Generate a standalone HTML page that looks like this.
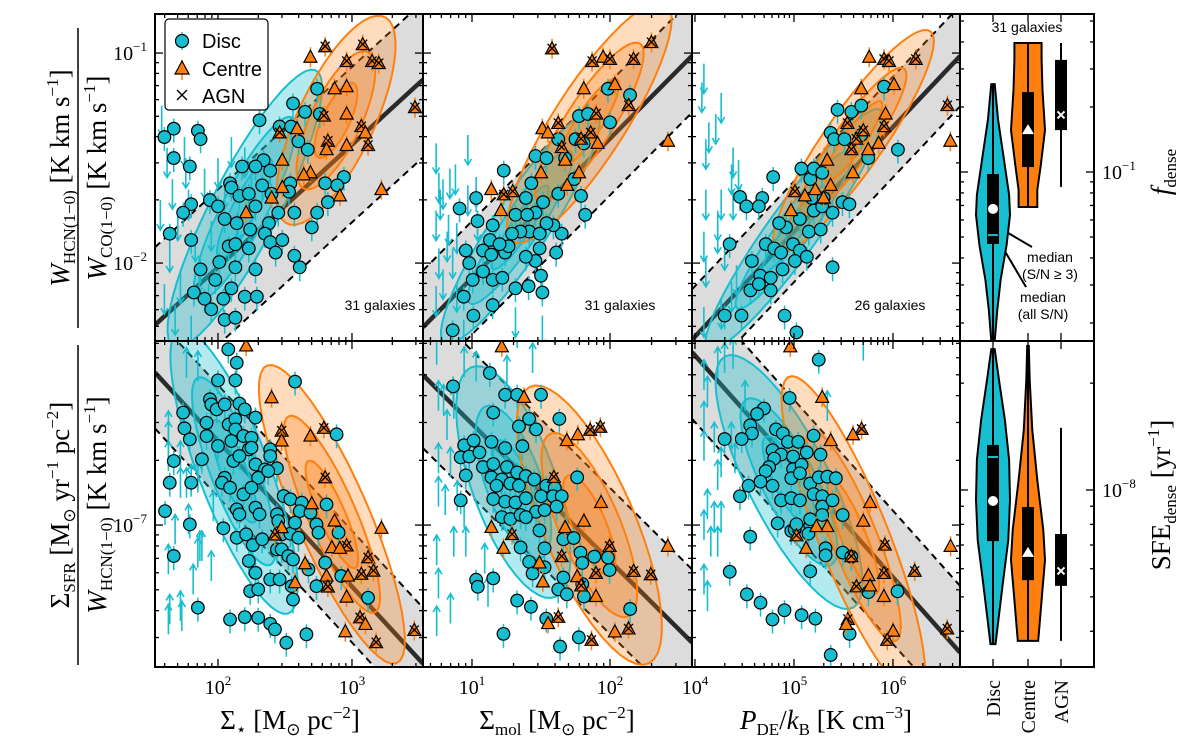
<!DOCTYPE html>
<html><head><meta charset="utf-8"><style>
html,body{margin:0;padding:0;background:#fff;}
svg{display:block;font-family:"Liberation Serif",serif;}
.sans{font-family:"Liberation Sans",sans-serif;}
</style></head><body>
<svg id="fig" width="1200" height="746" viewBox="0 0 1200 746" xmlns="http://www.w3.org/2000/svg">
<defs>
<clipPath id="c00"><rect x="155" y="14" width="268" height="327"/></clipPath>
<clipPath id="c01"><rect x="423" y="14" width="269" height="327"/></clipPath>
<clipPath id="c02"><rect x="692" y="14" width="268" height="327"/></clipPath>
<clipPath id="c10"><rect x="155" y="341" width="268" height="326"/></clipPath>
<clipPath id="c11"><rect x="423" y="341" width="269" height="326"/></clipPath>
<clipPath id="c12"><rect x="692" y="341" width="268" height="326"/></clipPath>
</defs>
<g id="plots"></g>

<!-- legend -->
<g class="sans">
<rect x="165" y="19" width="103" height="91" rx="4" fill="#fff" stroke="#000" stroke-width="1.2"/>
<g>
<line x1="182" y1="32" x2="182" y2="50" stroke="#17becf" stroke-width="1.5"/>
<circle cx="182" cy="41" r="6.5" fill="#17becf" stroke="#000" stroke-width="1.2"/>
<text x="202" y="48" font-size="20">Disc</text></g>
<g>
<line x1="182" y1="60" x2="182" y2="80" stroke="#ff7f0e" stroke-width="1.5"/>
<polygon points="182,61 189,74 175,74" fill="#ff7f0e" stroke="#000" stroke-width="1.2"/>
<text x="202" y="76" font-size="20">Centre</text></g>
<g>
<path d="M177,90 L187,100 M187,90 L177,100" stroke="#000" stroke-width="1.4"/>
<text x="202" y="103" font-size="20">AGN</text></g>
</g>

<text class="sans" x="380" y="310" font-size="14" text-anchor="middle">31 galaxies</text>
<text class="sans" x="620" y="310" font-size="14" text-anchor="middle">31 galaxies</text>
<text class="sans" x="890" y="310" font-size="14" text-anchor="middle">26 galaxies</text>
<text class="sans" x="1027" y="32" font-size="14" text-anchor="middle">31 galaxies</text>

<!-- y axis titles -->
<g transform="translate(78,178) rotate(-90)" font-size="27">
<text x="0" y="-9" text-anchor="middle"><tspan font-style="italic">W</tspan><tspan font-size="17" dy="6">HCN(1−0)</tspan><tspan dy="-6"> [K km s</tspan><tspan font-size="17" dy="-11">−1</tspan><tspan dy="11">]</tspan></text>
<line x1="-150" y1="0" x2="150" y2="0" stroke="#000" stroke-width="1.5"/>
<text x="0" y="28" text-anchor="middle"><tspan font-style="italic">W</tspan><tspan font-size="17" dy="6">CO(1−0)</tspan><tspan dy="-6"> [K km s</tspan><tspan font-size="17" dy="-11">−1</tspan><tspan dy="11">]</tspan></text>
</g>
<g transform="translate(78,505) rotate(-90)" font-size="27">
<text x="0" y="-9" text-anchor="middle">Σ<tspan font-size="17" dy="6">SFR</tspan><tspan dy="-6"> [M</tspan><tspan font-size="17" dy="6">⊙</tspan><tspan dy="-6"> yr</tspan><tspan font-size="17" dy="-11">−1</tspan><tspan dy="11"> pc</tspan><tspan font-size="17" dy="-11">−2</tspan><tspan dy="11">]</tspan></text>
<line x1="-160" y1="0" x2="160" y2="0" stroke="#000" stroke-width="1.5"/>
<text x="0" y="28" text-anchor="middle"><tspan font-style="italic">W</tspan><tspan font-size="17" dy="6">HCN(1−0)</tspan><tspan dy="-6"> [K km s</tspan><tspan font-size="17" dy="-11">−1</tspan><tspan dy="11">]</tspan></text>
</g>
<text transform="translate(1170,172) rotate(-90)" font-size="27" text-anchor="middle"><tspan font-style="italic">f</tspan><tspan font-size="17" dy="6">dense</tspan></text>
<text transform="translate(1170,495) rotate(-90)" font-size="27" text-anchor="middle">SFE<tspan font-size="17" dy="6">dense</tspan><tspan dy="-6"> [yr</tspan><tspan font-size="17" dy="-11">−1</tspan><tspan dy="11">]</tspan></text>

<!-- x axis titles -->
<text x="290" y="729" font-size="27" text-anchor="middle">Σ<tspan font-size="17" dy="6">⋆</tspan><tspan dy="-6"> [M</tspan><tspan font-size="17" dy="6">⊙</tspan><tspan dy="-6"> pc</tspan><tspan font-size="17" dy="-11">−2</tspan><tspan dy="11">]</tspan></text>
<text x="557" y="729" font-size="27" text-anchor="middle">Σ<tspan font-size="17" dy="6">mol</tspan><tspan dy="-6"> [M</tspan><tspan font-size="17" dy="6">⊙</tspan><tspan dy="-6"> pc</tspan><tspan font-size="17" dy="-11">−2</tspan><tspan dy="11">]</tspan></text>
<text x="826" y="729" font-size="27" text-anchor="middle"><tspan font-style="italic">P</tspan><tspan font-size="17" dy="6">DE</tspan><tspan dy="-6">/</tspan><tspan font-style="italic">k</tspan><tspan font-size="17" dy="6">B</tspan><tspan dy="-6"> [K cm</tspan><tspan font-size="17" dy="-11">−3</tspan><tspan dy="11">]</tspan></text>

<!-- violin annotations -->
<g class="sans" font-size="14" text-anchor="middle">
<text x="1050" y="262">median</text><text x="1050" y="279">(S/N ≥ 3)</text>
<text x="1043" y="302">median</text><text x="1043" y="319">(all S/N)</text>
<line x1="1032" y1="247" x2="1003" y2="230" stroke="#000" stroke-width="2"/>
<line x1="1026" y1="287" x2="1003" y2="248" stroke="#000" stroke-width="2"/>
</g>
<g id="violins"></g>
</svg>
<script>
// ---- DATA (log10 values) ----
// column 1: log Sigma_star ; top: log W_HCN/W_CO ; bottom: log Sigma_SFR/W_HCN
const tlDisc=[[2.74,-1.17],[2.56,-1.24],[2.31,-1.32],[1.67,-1.36],[1.60,-1.40],[1.85,-1.37],[1.87,-1.41],[1.67,-1.50],[1.79,-1.54],[2.18,-1.54],[2.34,-1.51],[2.28,-1.54],[2.39,-1.56],[2.46,-1.35],[2.545,-1.35],[2.60,-1.42],[2.67,-1.46],[2.65,-1.28],[2.76,-1.29],[2.94,-1.59],[2.80,-1.62],[2.89,-1.63],[2.09,-1.62],[2.10,-1.64],[1.94,-1.70],[2.00,-1.73],[1.80,-1.72],[1.74,-1.76],[2.16,-1.68],[2.23,-1.67],[2.33,-1.63],[2.40,-1.67],[2.54,-1.62],[2.53,-1.66],[2.82,-1.71],[2.74,-1.76],[2.70,-1.83],[2.57,-1.76],[2.45,-1.76],[2.05,-1.79],[2.14,-1.81],[2.28,-1.73],[2.24,-1.84],[2.38,-1.81],[2.35,-1.86],[1.64,-1.86],[1.80,-1.89],[2.08,-1.92],[2.13,-1.91],[2.23,-1.93],[2.39,-1.90],[2.48,-1.89],[2.43,-1.95],[2.57,-1.965],[2.61,-2.02],[2.01,-1.995],[2.13,-2.02],[2.28,-2.03],[1.87,-2.03],[1.98,-2.08],[2.10,-2.12],[2.20,-2.16],[2.29,-2.16],[1.82,-2.14],[1.90,-2.17],[1.95,-2.22],[2.04,-2.17],[2.05,-2.27],[2.13,-2.26]];
const tlCentre=[[2.69,-1.02,0],[2.80,-0.97,1],[3.08,-0.96,1],[2.96,-1.04,1],[3.15,-1.04,1],[3.20,-1.05,1],[2.96,-1.16,0],[2.87,-1.17,0],[2.96,-1.29,0],[2.79,-1.30,1],[2.59,-1.36,0],[2.46,-1.38,1],[3.07,-1.35,1],[3.10,-1.38,0],[2.82,-1.42,1],[2.81,-1.46,0],[2.96,-1.44,0],[2.48,-1.51,0],[2.69,-1.57,0],[2.64,-1.58,0],[2.48,-1.64,0],[2.40,-1.69,0],[2.21,-1.76,0],[2.91,-1.68,0],[3.22,-1.65,0],[3.47,-1.26,1],[3.12,-1.44,1]];
const tlLimits=[[1.58,-1.25],[1.62,-1.45],[1.66,-1.60],[1.70,-1.75],[1.64,-1.90],[1.75,-1.40],[1.78,-1.65],[1.83,-1.85],[1.86,-2.00],[1.72,-2.05],[1.90,-1.55],[1.95,-1.80],[2.00,-1.50],[2.05,-1.60],[2.10,-1.40],[2.20,-1.45],[1.60,-2.10],[1.68,-2.20],[1.80,-2.25],[2.15,-1.75],[2.25,-1.55],[1.57,-1.70],[1.93,-2.10],[1.76,-1.50]];
const tlFit=[0.584,-3.188,0.37];
const tlDiscContour=[2.2,-1.74,0.65,0.76,0.85,0.22];
const tlCentreContour=[2.88,-1.32,0.65,0.76,0.62,0.25];

const blDisc=[[2.077,-6.183],[2.14,-6.245],[2.0,-6.327],[2.13,-6.327],[2.575,-6.333],[1.94,-6.415],[1.95,-6.439],[1.99,-6.462],[2.05,-6.439],[2.16,-6.435],[2.20,-6.462],[1.74,-6.477],[1.75,-6.55],[1.79,-6.601],[1.915,-6.524],[1.915,-6.586],[2.08,-6.532],[2.13,-6.508],[2.13,-6.555],[2.28,-6.50],[2.19,-6.586],[2.25,-6.594],[2.0,-6.632],[2.10,-6.609],[2.23,-6.648],[2.25,-6.64],[1.88,-6.694],[2.115,-6.702],[2.16,-6.679],[2.39,-6.648],[2.39,-6.679],[2.28,-6.718],[2.44,-6.736],[2.35,-6.741],[2.30,-6.78],[1.67,-6.702],[1.80,-6.803],[1.64,-6.803],[2.05,-6.78],[2.03,-6.803],[2.09,-6.826],[2.19,-6.857],[2.25,-6.826],[2.28,-6.919],[2.14,-6.927],[2.16,-6.95],[2.31,-6.95],[2.375,-6.749],[1.605,-6.935],[1.79,-6.997],[2.04,-7.015],[2.14,-7.059],[2.21,-7.043],[2.26,-7.093],[2.33,-7.066],[2.44,-6.95],[2.45,-6.981],[2.49,-6.865],[2.54,-6.88],[2.625,-6.896],[2.61,-6.935],[2.69,-6.942],[2.475,-7.043],[2.54,-7.04],[2.60,-7.059],[2.575,-6.989],[2.44,-7.113],[2.475,-7.113],[2.525,-7.144],[2.56,-7.16],[2.735,-6.997],[2.75,-7.035],[2.90,-7.035],[2.81,-6.904],[2.675,-7.206],[2.80,-7.175],[2.735,-7.284],[2.92,-7.237],[3.12,-7.338],[2.23,-7.167],[2.28,-7.222],[2.39,-7.253],[2.46,-7.253],[2.24,-7.307],[2.30,-7.299],[2.56,-7.346],[2.55,-7.284],[1.67,-7.144],[1.85,-7.384],[2.09,-7.439],[2.20,-7.428],[2.30,-7.431],[2.39,-7.459],[2.425,-7.485],[2.66,-7.508],[2.51,-7.547],[2.885,-6.578]];
const blCentre=[[2.21,-6.167,0],[2.40,-6.408,0],[2.475,-6.563,1],[2.475,-6.609,0],[2.69,-6.586,0],[2.79,-6.55,1],[2.80,-6.78,1],[2.70,-6.901,0],[2.87,-6.981,0],[2.475,-7.012,0],[2.425,-7.046,1],[2.96,-7.097,1],[2.85,-7.105,0],[2.91,-7.108,0],[3.12,-7.152,1],[3.16,-7.214,1],[3.07,-7.229,1],[2.97,-7.237,0],[2.65,-7.18,0],[2.81,-7.237,0],[2.82,-7.288,1],[2.575,-7.268,0],[2.96,-7.335,0],[3.06,-7.431,1],[3.10,-7.462,0],[2.95,-7.496,0],[3.18,-7.547,1],[3.465,-7.49,1],[3.22,-7.015,0]];
const blLimits=[[1.63,-7.508],[1.64,-7.462],[1.73,-7.493],[1.72,-7.446],[1.63,-7.229],[1.68,-7.09],[1.72,-6.873],[1.765,-6.873],[1.72,-6.749],[1.63,-6.749],[1.63,-6.609],[1.63,-6.656],[1.80,-6.857],[1.85,-6.849],[1.865,-7.167],[1.85,-7.198],[1.88,-7.167],[1.95,-7.26],[1.815,-7.322],[1.765,-6.315],[1.85,-6.33],[1.965,-6.981],[1.78,-7.043]];
const blFit=[-0.677,-5.255,0.26];
const blDiscContour=[2.12,-6.75,0.553,-0.833,0.78,0.24];
const blCentreContour=[2.85,-6.95,0.6,-0.8,0.85,0.24];

// column 2: log Sigma_mol
const tmDisc=[[1.23,-1.56],[1.03,-1.69],[0.91,-1.74],[1.04,-1.80],[0.955,-1.94],[1.15,-1.82],[1.13,-1.89],[1.08,-1.94],[1.14,-1.96],[1.24,-1.95],[0.98,-2.00],[1.08,-2.04],[1.005,-2.08],[1.15,-2.08],[1.22,-2.07],[0.94,-2.16],[1.01,-2.25],[0.86,-2.32],[1.15,-2.20],[1.315,-2.12],[1.41,-2.11],[1.50,-2.06],[1.51,-2.14],[1.61,-1.95],[1.65,-1.86],[1.59,-1.82],[1.54,-1.81],[1.46,-1.76],[1.39,-1.69],[1.43,-1.62],[1.46,-1.49],[1.54,-1.50],[1.625,-1.41],[1.75,-1.41],[1.81,-1.43],[1.775,-1.30],[1.84,-1.29],[2.0,-1.33],[1.985,-1.17],[2.145,-1.20],[1.675,-1.50],[1.74,-1.60],[1.79,-1.68],[1.82,-1.77],[1.625,-1.67],[1.515,-1.71],[1.415,-1.85],[1.35,-1.85],[1.29,-1.86],[1.315,-1.77],[1.40,-1.77],[1.49,-1.86],[1.46,-1.99],[1.39,-1.97],[1.265,-1.92],[1.20,-1.91],[1.49,-1.93]];
const tmCentre=[[1.58,-0.98,1],[1.87,-1.04,1],[1.95,-1.02,0],[2.0,-1.03,1],[2.17,-1.03,1],[2.30,-0.95,1],[1.81,-1.17,0],[2.035,-1.15,0],[2.135,-1.25,1],[1.90,-1.29,1],[1.625,-1.335,1],[1.51,-1.36,0],[1.55,-1.38,0],[1.86,-1.38,1],[1.79,-1.41,1],[1.91,-1.43,0],[1.65,-1.45,1],[1.675,-1.51,0],[1.775,-1.57,0],[1.69,-1.63,0],[1.50,-1.57,0],[1.14,-1.65,0],[1.23,-1.675,1],[1.295,-1.66,1],[1.21,-1.75,0],[2.42,-1.42,0]];
const tmLimits=[[0.74,-1.43],[0.76,-1.57],[0.77,-1.65],[0.79,-1.60],[0.84,-1.55],[0.88,-1.53],[0.74,-1.75],[0.83,-1.77],[0.82,-1.85],[0.89,-1.81],[0.97,-1.39],[0.97,-1.63],[1.03,-1.59],[0.76,-1.93],[0.86,-1.93],[0.79,-2.03],[0.74,-2.11],[0.89,-2.09],[1.04,-1.75],[1.315,-2.21],[1.51,-2.25],[0.94,-2.27]];
const tmFit=[0.663,-2.733,0.27];
const tmDiscContour=[1.35,-1.83,0.72,0.69,0.78,0.17];
const tmCentreContour=[1.85,-1.33,0.72,0.69,0.8,0.22];

const bmDisc=[[1.129,-6.293],[0.863,-6.355],[1.24,-6.394],[1.327,-6.394],[1.50,-6.394],[1.154,-6.477],[1.633,-6.506],[1.34,-6.541],[1.464,-6.555],[1.414,-6.506],[0.943,-6.629],[1.012,-6.607],[1.141,-6.613],[1.24,-6.642],[1.365,-6.633],[0.918,-6.685],[0.98,-6.681],[1.054,-6.662],[1.079,-6.73],[1.154,-6.716],[1.253,-6.73],[1.327,-6.755],[1.39,-6.772],[1.451,-6.788],[1.141,-6.778],[1.216,-6.788],[0.955,-6.769],[1.178,-6.817],[1.278,-6.807],[1.34,-6.817],[1.538,-6.817],[1.60,-6.827],[1.501,-6.866],[1.588,-6.866],[1.65,-6.866],[1.762,-6.778],[1.154,-6.879],[1.24,-6.891],[1.315,-6.895],[1.39,-6.875],[0.918,-6.885],[1.464,-6.938],[1.526,-6.93],[1.613,-6.914],[1.216,-6.963],[1.278,-6.972],[1.352,-6.953],[1.39,-6.963],[1.489,-7.025],[1.352,-7.104],[1.414,-7.171],[1.439,-7.225],[1.526,-7.108],[1.662,-7.066],[1.737,-7.06],[1.786,-7.128],[1.799,-7.176],[1.886,-7.147],[1.985,-7.151],[1.997,-7.209],[1.526,-7.196],[1.662,-7.244],[1.799,-7.274],[1.625,-7.299],[1.687,-7.322],[1.811,-7.332],[1.03,-7.254],[1.042,-7.287],[1.154,-7.248],[1.327,-7.351],[1.427,-7.38],[1.538,-7.435],[2.146,-7.39],[1.228,-7.506],[1.638,-7.565],[1.774,-7.522]];
const bmCentre=[[1.216,-6.171,0],[1.377,-6.406,0],[1.687,-6.607,0],[1.767,-6.58,0],[1.856,-6.559,1],[1.93,-6.545,1],[1.593,-6.778,1],[1.935,-6.895,0],[1.141,-7.011,0],[1.811,-6.982,0],[1.29,-7.044,1],[1.228,-7.108,0],[1.675,-7.011,0],[1.65,-7.147,1],[1.489,-7.176,0],[1.997,-7.099,1],[1.513,-7.264,0],[1.762,-7.24,0],[1.791,-7.283,1],[1.898,-7.225,1],[1.898,-7.332,0],[2.171,-7.215,1],[2.295,-7.231,1],[2.419,-7.099,0],[1.625,-7.429,1],[1.551,-7.458,0],[2.035,-7.497,0],[2.134,-7.483,1],[1.866,-7.536,1]];
const bmLimits=[[0.744,-6.254],[0.757,-6.468],[0.794,-6.487],[0.868,-6.506],[0.943,-6.312],[1.03,-6.332],[0.819,-6.604],[0.757,-6.759],[0.844,-6.778],[0.757,-6.914],[0.806,-6.953],[0.893,-6.934],[0.943,-7.011],[0.744,-7.186],[0.868,-7.147],[0.955,-7.147],[1.092,-7.225],[0.757,-7.341],[0.844,-7.458],[0.744,-7.516],[1.253,-6.351],[1.439,-6.293],[1.60,-6.157],[1.327,-6.176],[1.116,-7.38]];
const bmFit=[-0.638,-5.891,0.34];
const bmDiscContour=[1.3,-6.8,0.55,-0.83,0.62,0.28];
const bmCentreContour=[1.85,-7.0,0.6,-0.8,0.78,0.3];

// column 3: log P_DE/k_B
const trDisc=[[4.79,-1.59],[4.455,-1.685],[4.52,-1.73],[4.68,-1.69],[4.645,-1.73],[4.35,-1.91],[4.575,-1.99],[4.715,-1.91],[4.80,-1.93],[4.66,-2.06],[4.56,-2.13],[4.765,-2.07],[4.885,-2.03],[4.765,-2.13],[4.645,-2.10],[4.87,-1.95],[4.99,-1.91],[5.06,-1.94],[5.01,-1.99],[5.15,-1.85],[4.92,-1.83],[4.85,-1.81],[5.06,-1.79],[5.20,-1.75],[5.285,-1.73],[5.18,-1.69],[5.165,-1.60],[5.075,-1.55],[5.20,-1.55],[5.285,-1.57],[5.37,-1.38],[5.44,-1.27],[5.58,-1.28],[5.68,-1.25],[5.91,-1.16],[6.05,-1.46],[5.405,-1.41],[5.51,-1.41],[5.68,-1.39],[5.75,-1.50],[5.30,-1.69],[5.39,-1.76],[5.49,-1.71],[5.56,-1.72],[5.39,-2.02],[4.47,-2.25],[4.905,-2.25],[5.025,-2.33],[4.30,-2.25],[5.13,-1.97],[5.27,-1.84]];
const trCentre=[[5.76,-1.02,0],[5.91,-1.03,1],[5.96,-1.04,1],[6.23,-1.03,1],[5.68,-1.17,0],[6.01,-1.15,0],[5.925,-1.29,0],[5.91,-1.35,1],[5.54,-1.335,1],[5.63,-1.41,1],[5.70,-1.37,1],[5.58,-1.46,1],[5.855,-1.43,0],[5.75,-1.46,0],[5.335,-1.51,0],[5.595,-1.57,0],[5.37,-1.63,0],[5.215,-1.65,0],[5.01,-1.66,1],[5.11,-1.68,0],[5.30,-1.69,0],[4.97,-1.75,0],[6.55,-1.25,1],[6.58,-1.42,0]];
const trLimits=[[4.09,-1.05],[4.07,-1.14],[4.14,-1.33],[4.21,-1.29],[4.265,-1.19],[4.11,-1.41],[4.385,-1.45],[4.37,-1.53],[4.44,-1.51],[4.11,-1.65],[4.265,-1.65],[4.385,-1.65],[4.09,-1.85],[4.23,-1.81],[4.30,-1.89],[4.11,-1.97],[4.42,-2.01],[4.37,-2.09],[4.265,-2.17],[4.09,-2.21],[4.23,-1.75]];
const trFit=[0.499,-4.346,0.24];
const trDiscContour=[5.0,-1.84,0.85,0.53,1.05,0.17];
const trCentreContour=[5.6,-1.42,0.85,0.53,0.95,0.2];

const brDisc=[[5.25,-6.231],[4.956,-6.409],[4.697,-6.458],[4.627,-6.483],[4.558,-6.536],[4.818,-6.555],[4.576,-6.574],[4.887,-6.574],[4.939,-6.613],[4.299,-6.6],[4.472,-6.6],[4.783,-6.652],[4.87,-6.672],[5.043,-6.613],[5.129,-6.662],[5.268,-6.672],[4.80,-6.691],[4.749,-6.73],[4.714,-6.749],[4.991,-6.681],[4.991,-6.74],[5.198,-6.584],[5.077,-6.72],[4.541,-6.817],[4.662,-6.798],[4.783,-6.817],[4.973,-6.782],[5.06,-6.759],[5.164,-6.807],[5.25,-6.778],[5.337,-6.775],[5.423,-6.782],[4.454,-6.866],[4.87,-6.885],[4.973,-6.875],[5.06,-6.885],[5.198,-6.856],[5.285,-6.866],[5.285,-6.914],[5.389,-6.885],[5.164,-7.002],[5.164,-6.973],[5.285,-6.953],[5.492,-6.953],[4.835,-6.992],[4.973,-7.027],[5.008,-7.021],[5.146,-7.04],[4.558,-7.054],[5.319,-7.108],[5.319,-7.141],[5.492,-7.128],[5.579,-7.147],[4.351,-7.217],[5.164,-7.215],[4.524,-7.322],[4.662,-7.361],[4.783,-7.439],[4.904,-7.396],[5.077,-7.419],[5.216,-7.435],[5.562,-7.506],[5.752,-7.312],[6.046,-7.308],[5.371,-7.604],[5.025,-6.996]];
const brCentre=[[4.963,-6.171,0],[5.285,-6.406,0],[5.683,-6.555,1],[5.596,-6.58,0],[5.371,-6.607,0],[5.769,-6.895,0],[5.70,-6.982,0],[5.337,-7.007,0],[5.226,-7.007,0],[5.025,-7.05,1],[5.122,-7.108,0],[5.579,-7.147,1],[5.918,-7.093,1],[6.219,-7.215,1],[5.752,-7.235,0],[5.908,-7.225,1],[5.631,-7.287,1],[5.769,-7.283,0],[5.908,-7.332,0],[5.544,-7.439,1],[5.527,-7.462,0],[6.001,-7.493,0],[5.942,-7.536,1],[6.548,-7.483,1],[6.582,-7.099,0]];
const brLimits=[[4.091,-6.371],[4.126,-6.448],[4.23,-6.312],[4.299,-6.293],[4.385,-6.273],[4.091,-6.565],[4.195,-6.662],[4.091,-6.701],[4.264,-6.778],[4.368,-6.662],[4.403,-6.759],[4.23,-6.837],[4.126,-6.973],[4.195,-7.031],[4.264,-7.031],[4.091,-7.07],[4.16,-7.147],[4.23,-7.147],[4.091,-7.322],[4.126,-7.4],[5.70,-6.235],[5.337,-6.516],[4.506,-6.468]];
const brFit=[-0.516,-4.147,0.31];
const brDiscContour=[4.95,-6.8,0.8,-0.6,0.9,0.3];
const brCentreContour=[5.6,-7.05,0.7,-0.72,1.0,0.28];

// violin data: [log value, relative width]
const violinTopDisc=[[-0.593,0.1],[-0.759,0.3],[-0.944,0.65],[-1.106,0.95],[-1.199,1],[-1.338,0.8],[-1.5,0.45],[-1.639,0.25],[-1.782,0.1]];
const violinTopCentre=[[-0.403,0.8],[-0.481,0.8],[-0.62,0.85],[-0.806,1],[-0.968,0.75],[-1.083,0.55],[-1.162,0.55]];
const boxTopDisc=[-0.593,-1.009,-1.333,-1.782,-1.171,-1.292];
const boxTopCentre=[-0.403,-0.63,-0.977,-1.162,-0.806];
const boxTopAgn=[-0.403,-0.481,-0.806,-1.069,-0.736];
const violinBotDisc=[[-7.603,0.1],[-7.69,0.35],[-7.803,0.7],[-7.915,0.95],[-8.028,1],[-8.141,0.9],[-8.254,0.6],[-8.352,0.35],[-8.434,0.15]];
const violinBotCentre=[[-7.594,0.05],[-7.69,0.1],[-7.831,0.25],[-7.972,0.55],[-8.113,0.9],[-8.197,1],[-8.31,0.8],[-8.425,0.6]];
const boxBotDisc=[-7.603,-7.873,-8.144,-8.434,-8.031,-7.907];
const boxBotCentre=[-7.594,-8.048,-8.254,-8.425,-8.177];
const boxBotAgn=[-7.825,-8.124,-8.27,-8.425,-8.228];
const categories=['Disc','Centre','AGN'];

// ---- RENDER ----
const NS='http://www.w3.org/2000/svg';
function mk(tag,attrs,parent){const e=document.createElementNS(NS,tag);for(const k in attrs)e.setAttribute(k,attrs[k]);parent.appendChild(e);return e;}
const CYAN='#17becf',ORANGE='#ff7f0e';
const cols=[{x0:155,x1:423,l0:1.53,l1:3.53},{x0:423,x1:692,l0:0.645,l1:2.594},{x0:692,x1:960,l0:3.97,l1:6.677}];
const rows=[{y0:14,y1:341,l0:-0.814,l1:-2.371},{y0:341,y1:667,l0:-6.144,l1:-7.66}];
const panels=[
 {r:0,c:0,disc:tlDisc,cen:tlCentre,lim:tlLimits,fit:tlFit,dc:tlDiscContour,cc:tlCentreContour},
 {r:0,c:1,disc:tmDisc,cen:tmCentre,lim:tmLimits,fit:tmFit,dc:tmDiscContour,cc:tmCentreContour},
 {r:0,c:2,disc:trDisc,cen:trCentre,lim:trLimits,fit:trFit,dc:trDiscContour,cc:trCentreContour},
 {r:1,c:0,disc:blDisc,cen:blCentre,lim:blLimits,fit:blFit,dc:blDiscContour,cc:blCentreContour},
 {r:1,c:1,disc:bmDisc,cen:bmCentre,lim:bmLimits,fit:bmFit,dc:bmDiscContour,cc:bmCentreContour},
 {r:1,c:2,disc:brDisc,cen:brCentre,lim:brLimits,fit:brFit,dc:brDiscContour,cc:brCentreContour}];
const root=document.getElementById('plots');

function ellipsePath(p,s,X,Y){const [cx,cy,dx,dy,a,b]=p;const n=Math.hypot(dx,dy),ux=dx/n,uy=dy/n;let d='';
 for(let i=0;i<=48;i++){const t=i/48*2*Math.PI;const ca=a*s*Math.cos(t),sb=b*s*Math.sin(t);
  const lx=cx+ca*ux-sb*uy,ly=cy+ca*uy+sb*ux;d+=(i?'L':'M')+X(lx).toFixed(1)+','+Y(ly).toFixed(1);}return d+'Z';}

function logTicks(l0,l1){const lo=Math.min(l0,l1),hi=Math.max(l0,l1);const t=[];
 for(let k=Math.floor(lo);k<=Math.ceil(hi);k++)for(let m=1;m<10;m++){const v=k+Math.log10(m);if(v>=lo-1e-6&&v<=hi+1e-6)t.push([v,m===1,k]);}return t;}

panels.forEach(p=>{
 const C=cols[p.c],R=rows[p.r];
 const X=v=>C.x0+(v-C.l0)/(C.l1-C.l0)*(C.x1-C.x0);
 const Y=v=>R.y0+(v-R.l0)/(R.l1-R.l0)*(R.y1-R.y0);
 const g=mk('g',{'clip-path':'url(#c'+p.r+p.c+')'},root);
 
 
 const [sl,ic,off]=p.fit;
 const fy=x=>sl*x+ic;
 const band=mk('polygon',{points:[[C.l0,fy(C.l0)+off],[C.l1,fy(C.l1)+off],[C.l1,fy(C.l1)-off],[C.l0,fy(C.l0)-off]].map(q=>X(q[0])+','+Y(q[1])).join(' '),fill:'#dcdcdc'},g);
 
 
 [off,-off].forEach(o=>{
  const dl=mk('line',{x1:X(C.l0),y1:Y(fy(C.l0)+o),x2:X(C.l1),y2:Y(fy(C.l1)+o),stroke:'#000','stroke-width':2,'stroke-dasharray':'7,5'},g);
  
  
 });
 const fl=mk('line',{x1:X(C.l0),y1:Y(fy(C.l0)),x2:X(C.l1),y2:Y(fy(C.l1)),stroke:'#2a2a2a','stroke-width':4.5},g);
 
 
 [[p.dc,CYAN,'rgba(23,190,207,0.33)','disc'],[p.cc,ORANGE,'rgba(255,127,14,0.27)','centre']].forEach(([cp,col,fill,nm])=>{
  [1,0.66,0.36].forEach(s=>{
   const ct=mk('path',{d:ellipsePath(cp,s,X,Y),fill:fill,stroke:col,'stroke-width':2},g);
   
   
  });
 });
 const dir=p.r===0?1:-1;
 p.lim.forEach(q=>{
  const x=X(q[0]),y=Y(q[1]),y2=y+dir*30;
  const ar=mk('path',{d:`M${x},${y}L${x},${y2}M${x-3.5},${y2-dir*6}L${x},${y2}L${x+3.5},${y2-dir*6}`,stroke:CYAN,'stroke-width':1.6,fill:'none'},g);
  
  
 });
 p.disc.forEach(q=>{
  const x=X(q[0]),y=Y(q[1]);
  const eb=mk('line',{x1:x,y1:y-10,x2:x,y2:y+14,stroke:CYAN,'stroke-width':1.5},g);
  
  
 });
 p.disc.forEach(q=>{
  const ci=mk('circle',{cx:X(q[0]),cy:Y(q[1]),r:6.3,fill:CYAN,stroke:'#000','stroke-width':1.2},g);
  
  
 });
 p.cen.forEach(q=>{
  const x=X(q[0]),y=Y(q[1]);
  const eb=mk('line',{x1:x,y1:y-10,x2:x,y2:y+10,stroke:ORANGE,'stroke-width':1.5},g);
  
  
  const tr=mk('polygon',{points:`${x},${y-7} ${x+6.5},${y+5} ${x-6.5},${y+5}`,fill:ORANGE,stroke:'#000','stroke-width':1.2},g);
  
  
  if(q[2]){
   const ax=mk('path',{d:`M${x-4.5},${y-5}L${x+4.5},${y+4}M${x+4.5},${y-5}L${x-4.5},${y+4}`,stroke:'#000','stroke-width':1.3},g);
   
   
  }
 });
 // ticks
 const tg=mk('g',{stroke:'#000','stroke-width':1.3},root);
 
 
 logTicks(C.l0,C.l1).forEach(t=>{const x=X(t[0]),L=t[1]?8:4;
  mk('line',{x1:x,y1:R.y1,x2:x,y2:R.y1-L},tg);mk('line',{x1:x,y1:R.y0,x2:x,y2:R.y0+L},tg);
  if(p.r===1&&t[1]){const tl=mk('text',{x:x,y:694,'font-size':20,'text-anchor':'middle',stroke:'none',fill:'#000'},root);
   
   
   tl.innerHTML='10<tspan font-size="13" dy="-9">'+t[2]+'</tspan>';}});
 logTicks(R.l1,R.l0).forEach(t=>{const y=Y(t[0]),L=t[1]?8:4;
  mk('line',{x1:C.x0,y1:y,x2:C.x0+L,y2:y},tg);mk('line',{x1:C.x1,y1:y,x2:C.x1-L,y2:y},tg);
  if(p.c===0&&t[1]){const tl=mk('text',{x:147,y:y+7,'font-size':20,'text-anchor':'end',stroke:'none',fill:'#000'},root);
   
   
   tl.innerHTML='10<tspan font-size="13" dy="-9">−'+Math.abs(t[2])+'</tspan>';}});
 const fr=mk('rect',{x:C.x0,y:R.y0,width:C.x1-C.x0,height:R.y1-R.y0,fill:'none',stroke:'#000','stroke-width':2},root);
 
 
});

// ---- violins ----
const vg=document.getElementById('violins');
const catX=[993,1028,1061];
const vrows=[{y0:14,y1:341,ref:-1,py:172,D:216},{y0:341,y1:667,ref:-8,py:490,D:355}];
const vdata=[[violinTopDisc,violinTopCentre,boxTopDisc,boxTopCentre,boxTopAgn],[violinBotDisc,violinBotCentre,boxBotDisc,boxBotCentre,boxBotAgn]];
vrows.forEach((R,ri)=>{
 const Y=v=>R.py-R.D*(v-R.ref);
 const [vd,vc,bd,bc,ba]=vdata[ri];
 [[vd,CYAN,0],[vc,ORANGE,1]].forEach(([prof,col,ci])=>{
  const x=catX[ci];let d='';
  prof.forEach((q,i)=>{d+=(i?'L':'M')+(x+17*q[1]).toFixed(1)+','+Y(q[0]).toFixed(1);});
  prof.slice().reverse().forEach(q=>{d+='L'+(x-17*q[1]).toFixed(1)+','+Y(q[0]).toFixed(1);});
  const vp=mk('path',{d:d+'Z',fill:col,stroke:'#000','stroke-width':2},vg);
  
  
 });
 [[bd,0],[bc,1],[ba,2]].forEach(([b,ci])=>{
  const x=catX[ci];
  const wl=mk('line',{x1:x,y1:Y(b[0]),x2:x,y2:Y(b[3]),stroke:'#000','stroke-width':2},vg);
  
  
  const bx=mk('rect',{x:x-6,y:Y(b[1]),width:12,height:Y(b[2])-Y(b[1]),fill:'#000'},vg);
  
  
  const my=Y(b[4]);let m;
  if(ci===0){m=mk('circle',{cx:x,cy:my,r:5,fill:'#fff'},vg);}
  else if(ci===1){m=mk('polygon',{points:`${x},${my-6} ${x+6},${my+4} ${x-6},${my+4}`,fill:'#fff'},vg);}
  else{m=mk('path',{d:`M${x-3.5},${my-3.5}L${x+3.5},${my+3.5}M${x+3.5},${my-3.5}L${x-3.5},${my+3.5}`,stroke:'#fff','stroke-width':2},vg);}
  
  
  if(ci===0){
   const ml=mk('line',{x1:x-5,y1:Y(b[5]),x2:x+5,y2:Y(b[5]),stroke:CYAN,'stroke-width':2},vg);
   
   
  }
 });
 const tg=mk('g',{stroke:'#000','stroke-width':1.3},vg);
 
 
 const lo=R.ref-(R.y1-R.py)/R.D,hi=R.ref+(R.py-R.y0)/R.D;
 logTicks(lo,hi).forEach(t=>{const y=Y(t[0]),L=t[1]?8:4;
  mk('line',{x1:960,y1:y,x2:960+L,y2:y},tg);mk('line',{x1:1094,y1:y,x2:1094-L,y2:y},tg);
  if(t[1]){const tl=mk('text',{x:1102,y:y+7,'font-size':20,stroke:'none',fill:'#000'},vg);
   
   
   tl.innerHTML='10<tspan font-size="13" dy="-9">−'+Math.abs(t[2])+'</tspan>';}});
 catX.forEach(x=>{mk('line',{x1:x,y1:R.y1,x2:x,y2:R.y1-8},tg);mk('line',{x1:x,y1:R.y0,x2:x,y2:R.y0+8},tg);});
 const fr=mk('rect',{x:960,y:R.y0,width:134,height:R.y1-R.y0,fill:'none',stroke:'#000','stroke-width':2},vg);
 
 
});
categories.forEach((c,i)=>{
 const t=mk('text',{transform:`translate(${catX[i]+7},680) rotate(-90)`,'font-size':20,'text-anchor':'end'},vg);
 
 
 t.textContent=c;
});
</script>
</body></html>
